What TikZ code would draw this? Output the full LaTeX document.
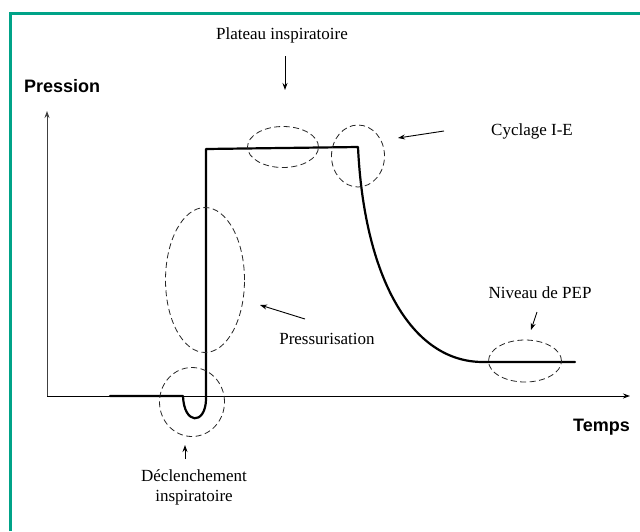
\documentclass[tikz,border=0pt]{standalone}
\usepackage{fontspec}
\setmainfont{Liberation Serif}
\newfontfamily\arialfont{Liberation Sans}
\usetikzlibrary{arrows.meta,shapes.geometric}
\definecolor{frameteal}{RGB}{0,163,136}
\begin{document}
\begin{tikzpicture}[x=1pt,y=-1pt,
  lbl/.style={font=\fontsize{17}{20}\selectfont, align=center, inner sep=0pt},
  axlbl/.style={font=\arialfont\bfseries\fontsize{18}{21}\selectfont, inner sep=0pt},
  zone/.style={draw=black!85, line width=0.8pt, dash pattern=on 6pt off 3.5pt, ellipse, inner sep=0pt},
  curve/.style={line width=2.2pt, line join=round, line cap=round},
  axis/.style={line width=0.9pt, -{Stealth[length=7pt,width=5pt]}},
  pointer/.style={line width=0.9pt, -{Stealth[length=7pt,width=5pt]}}
]
\useasboundingbox (0,0) rectangle (640,531);
\fill[white] (0,0) rectangle (640,531);
% frame
\draw[frameteal, line width=3pt] (10,531) -- (10,13) -- (640,13);

% axes
\coordinate (O) at (47,396);
\coordinate (ytop) at (47,111);
\coordinate (xend) at (630,396);
\draw[axis, black!75] (O) -- (ytop);
\draw[axis] (O) -- (xend);
\node[axlbl, anchor=west] (pression) at (24,86) {Pression};
\node[axlbl, anchor=east] (temps) at (630,427) {Temps};

% curve
\draw[curve] (110,396) -- (183,396) .. controls (184,425) and (205,425) .. (206,400)
  -- (206,149) -- (358,147)
  .. controls (364,275) and (410,362) .. (483,362) -- (575,362);

% dashed zones
\node[zone, minimum width=65pt, minimum height=69pt] (zdecl) at (192,402) {};
\node[zone, minimum width=79pt, minimum height=145pt] (zpress) at (205,280) {};
\node[zone, minimum width=71pt, minimum height=41pt] (zplat) at (283,147) {};
\node[zone, minimum width=53pt, minimum height=62pt] (zcyc) at (358,156) {};
\node[zone, minimum width=73pt, minimum height=42pt] (zpep) at (525,361) {};

% labels
\node[lbl] (tplat) at (282,35) {Plateau inspiratoire};
\node[lbl] (tcyc) at (532,131) {Cyclage I-E};
\node[lbl] (tpress) at (327,339) {Pressurisation};
\node[lbl] (tpep) at (540,293) {Niveau de PEP};
\node[lbl] (tdecl) at (194,487) {Déclenchement\\inspiratoire};

% pointers
\coordinate (a1s) at (285,56);  \coordinate (a1e) at (285,90);
\draw[pointer] (a1s) -- (a1e);
\coordinate (a2s) at (444,131); \coordinate (a2e) at (398,138);
\draw[pointer] (a2s) -- (a2e);
\coordinate (a3s) at (305,319); \coordinate (a3e) at (260,305);
\draw[pointer] (a3s) -- (a3e);
\coordinate (a4s) at (537,312); \coordinate (a4e) at (531,330);
\draw[pointer] (a4s) -- (a4e);
\coordinate (a5s) at (185,459); \coordinate (a5e) at (185,445);
\draw[pointer] (a5s) -- (a5e);
\end{tikzpicture}
\end{document}
